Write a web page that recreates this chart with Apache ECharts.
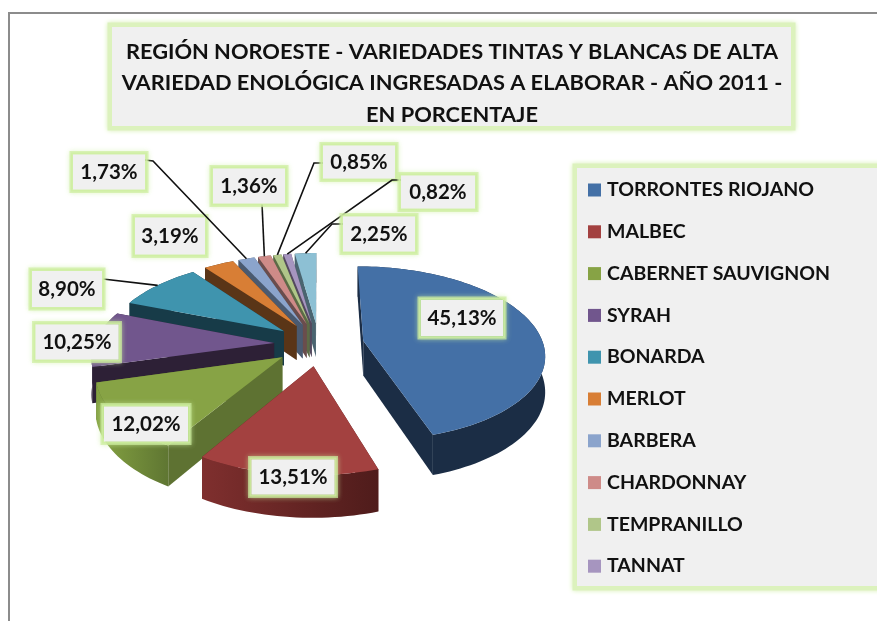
<!DOCTYPE html>
<html><head><meta charset="utf-8">
<style>html,body{margin:0;padding:0;background:#fff}#c{width:877px;height:621px}</style>
<script src="https://cdn.jsdelivr.net/npm/echarts@6/dist/echarts.min.js"></script>
</head><body><div id="c"></div>
<script>
// ---- data ----
const categories = ['TORRONTES RIOJANO','MALBEC','CABERNET SAUVIGNON','SYRAH','BONARDA','MERLOT','BARBERA','CHARDONNAY','TEMPRANILLO','TANNAT','OTRAS'];
const values = [45.13,13.51,12.02,10.25,8.90,3.19,1.73,1.36,0.85,0.82,2.25];
const legendNames = categories.slice(0,10);
const titleText = 'REGIÓN NOROESTE - VARIEDADES TINTAS Y BLANCAS DE ALTA\nVARIEDAD ENOLÓGICA INGRESADAS A ELABORAR - AÑO 2011 -\nEN PORCENTAJE';

// ---- styles ----
const topColors = ['#4470a6','#a34140','#87a345','#71568d','#3f94ae','#d87e35','#8ba4cc','#ce8b88','#b0c689','#a695bf','#8dc0d4'];
const cutColors = ['#1b2d45','#5c2220','#5e7232','#2d2036','#173b48','#5a3517','#4a5a70','#6a4d4d','#5c6b46','#54495f','#4a6470'];
const arcFrom   = ['#1b2d45','#7f2f2e','#85a342','#2d2036','#173b48','#5a3517','#4a5a70','#6a4d4d','#5c6b46','#54495f','#4a6470'];
const arcTo     = ['#1b2d45','#4f1c1b','#5f7632','#2d2036','#173b48','#5a3517','#4a5a70','#6a4d4d','#5c6b46','#54495f','#4a6470'];
const FONT = 'Lato, "Open Sans", sans-serif';
const GLOW = 'rgba(205,238,160,0.7)';
const GLOW_SOLID = '#dcf2bd';

// ---- pie projection parameters ----
const CX = 319, CY = 344, RX = 180, RY = 86, PERSP = 0.145, EXPLODE = 0.25, DEPTH = 35;
function project(u, v, down) {
  const s = 1 / (1 - PERSP * v);
  return [CX + RX * u * s, CY + RY * v * s + (down ? DEPTH * s : 0)];
}
const total = values.reduce((a, b) => a + b, 0);
let acc = 0;
const slices = values.map((val, i) => {
  const a0 = acc / total * Math.PI * 2;
  acc += val;
  const a1 = acc / total * Math.PI * 2;
  const m = (a0 + a1) / 2;
  return { i, a0, a1, m, ou: EXPLODE * Math.sin(m), ov: -EXPLODE * Math.cos(m) };
});
function rim(s, a) { return [s.ou + Math.sin(a), s.ov - Math.cos(a)]; }
function arcPts(s) {
  const n = Math.max(4, Math.ceil((s.a1 - s.a0) / 0.03));
  const pts = [];
  for (let k = 0; k <= n; k++) pts.push(rim(s, s.a0 + (s.a1 - s.a0) * k / n));
  return pts;
}
function wall(pts) {
  const top = pts.map(p => project(p[0], p[1], false));
  const bot = pts.map(p => project(p[0], p[1], true)).reverse();
  return top.concat(bot);
}
function meanY(poly) { return poly.reduce((a, p) => a + p[1], 0) / poly.length; }

function renderSlice(params, api) {
  const s = slices[api.value(1)];
  const i = s.i, arc = arcPts(s), apex = [s.ou, s.ov];
  const faces = [
    { pts: wall([apex, arc[0]]), fill: cutColors[i] },
    { pts: wall([apex, arc[arc.length - 1]]), fill: cutColors[i] },
    { pts: wall(arc), fill: { type: 'linear', x: 0, y: 0, x2: 1, y2: 0, colorStops: [{ offset: 0, color: arcFrom[i] }, { offset: 1, color: arcTo[i] }] } }
  ].sort((a, b) => meanY(a.pts) - meanY(b.pts));
  const children = faces.map(f => ({ type: 'polygon', shape: { points: f.pts }, style: { fill: f.fill, stroke: null } }));
  const topPoly = [apex].concat(arc).map(p => project(p[0], p[1], false));
  children.push({ type: 'polygon', shape: { points: topPoly }, style: { fill: topColors[i], stroke: null } });
  return { type: 'group', children };
}

// ---- value label boxes: [centre x, centre y, width, height, leader start, elbow] ----
const labelBoxes = [
  [462,318,82,36,null,null],
  [293,477,83,35,null,null],
  [146,424,84,35,null,null],
  [77,342,83,35,null,null],
  [67,289,70,36,[103,279],null],
  [170,236,70,37,null,null],
  [109,172,72,35,[145,160],[153,161]],
  [249,186,72,35,[262,204],null],
  [359,162,72,33,[323,163],[314,163]],
  [438,192,74,33,[402,180],[392,180]],
  [379,234,72,35,[343,224],[332,224]]
];
function renderLabel(params, api) {
  const i = api.value(1), b = labelBoxes[i], s = slices[i];
  const children = [];
  if (b[4]) {
    const r = rim(s, s.m);
    const end = project(r[0], r[1], false);
    const pts = b[5] ? [b[4], b[5], end] : [b[4], end];
    children.push({ type: 'polyline', shape: { points: pts }, style: { stroke: '#111', lineWidth: 1.6, fill: null } });
  }
  const x = b[0] - b[2] / 2, y = b[1] - b[3] / 2;
  children.push({ type: 'rect', shape: { x: x - 2, y: y - 2, width: b[2] + 4, height: b[3] + 4 },
    style: { fill: GLOW, stroke: GLOW, lineWidth: 3, shadowBlur: 5, shadowColor: GLOW } });
  children.push({ type: 'rect', shape: { x, y, width: b[2], height: b[3] }, style: { fill: '#f0f0f0' } });
  children.push({ type: 'text', style: { x: b[0], y: b[1], text: values[i].toFixed(2).replace('.', ',') + '%', align: 'center', verticalAlign: 'middle', font: 'bold 20.5px ' + FONT, fill: '#111' } });
  return { type: 'group', children };
}

// painter order: far slices first
const drawOrder = slices.slice().sort((a, b) => a.ov - b.ov);
const sliceSeries = drawOrder.map(s => ({
  type: 'custom', name: categories[s.i], coordinateSystem: 'none', renderItem: renderSlice,
  data: [[values[s.i], s.i]], itemStyle: { color: topColors[s.i] }, silent: true, animation: false, z: 3, clip: false
}));
const labelSeries = {
  type: 'custom', name: 'etiquetas', coordinateSystem: 'none', renderItem: renderLabel,
  data: values.map((v, i) => [v, i]), silent: true, animation: false, z: 5, clip: false
};
function panel(x, y, w, h) {
  return [
    { type: 'rect', z: 1, shape: { x: x - 3, y: y - 3, width: w + 6, height: h + 6 }, style: { fill: GLOW_SOLID, stroke: GLOW_SOLID, lineWidth: 3, shadowBlur: 5, shadowColor: GLOW_SOLID } },
    { type: 'rect', z: 1, shape: { x, y, width: w, height: h }, style: { fill: '#f0f0f0' } }
  ];
}
const chart = echarts.init(document.getElementById('c'), null, { renderer: 'canvas' });
chart.setOption({
  backgroundColor: '#fff',
  animation: false,
  title: { text: titleText, left: 447, top: 31, textAlign: 'center', z: 6,
    textStyle: { fontFamily: FONT, fontWeight: 'bold', fontSize: 21.8, lineHeight: 31.5, color: '#111' } },
  legend: { data: legendNames, orient: 'vertical', left: 588, top: 180, icon: 'rect', itemWidth: 13, itemHeight: 13, itemGap: 21.8,
    selectedMode: false, z: 6, padding: 0,
    textStyle: { fontFamily: FONT, fontWeight: 'bold', fontSize: 19.5, lineHeight: 20, color: '#111', padding: [0, 0, 0, 1] } },
  graphic: [
    { type: 'polyline', z: 0, shape: { points: [[9, 621], [9, 13], [877, 13]] }, style: { stroke: '#8c8c8c', lineWidth: 2, fill: null } },
    ...panel(112, 27, 679, 99),
    ...panel(577, 168, 320, 418)
  ],
  series: [...sliceSeries, labelSeries]
});
</script></body></html>
